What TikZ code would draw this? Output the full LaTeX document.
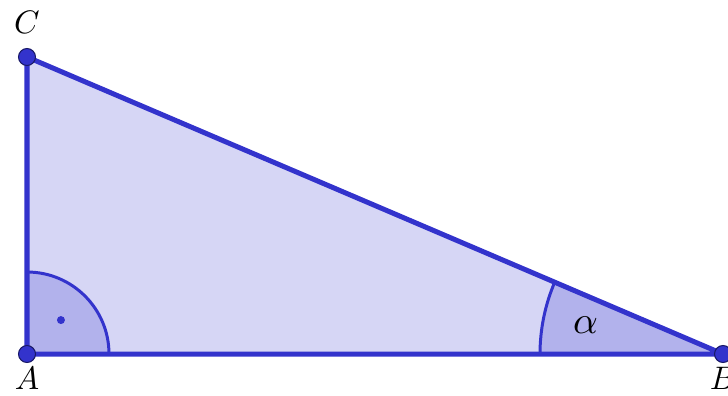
\documentclass[tikz,border=0pt]{standalone}
\usepackage{amsmath}
\usepackage{graphicx}
\usetikzlibrary{positioning,calc}
\definecolor{edgeblue}{RGB}{51,51,204}
\definecolor{fillblue}{RGB}{214,214,245}
\definecolor{anglefill}{RGB}{178,178,236}
\newcommand{\biglabel}[2][1.85]{\scalebox{#1}{\fontsize{10}{12}\selectfont$#2$}}
\tikzset{
    % Triangle styles
    side/.style={draw=edgeblue, line width=2.85pt, line join=round},
    angle arc/.style={draw=edgeblue, line width=1.7pt},
    vertex/.style={circle, fill=edgeblue, draw=edgeblue!50!black, line width=0.6pt,
                   minimum size=3.4mm, inner sep=0pt},
    vertex label/.style={inner sep=0pt},
}

\begin{document}
\begin{tikzpicture}
    \useasboundingbox (0,0) rectangle (14.56,7.90);

    % Points
    \coordinate (A) at (0.54, 0.82);
    \coordinate (B) at (14.46, 0.82);
    \coordinate (C) at (0.54, 6.76);

    % Triangle
    \fill[fillblue] (A) -- (B) -- (C) -- cycle;

    % Angles
    \fill[anglefill] (A) -- ++(1.64,0) arc[start angle=0, end angle=90, radius=1.64] -- cycle;
    \draw[angle arc] ($(A)+(1.64,0)$) arc[start angle=0, end angle=90, radius=1.64];
    \fill[edgeblue] ($(A)+(45:0.96)$) circle (0.08);
    \fill[anglefill] (B) -- ++(-3.66,0) arc[start angle=180, end angle=156.89, radius=3.66] -- cycle;
    \draw[angle arc] ($(B)+(-3.66,0)$) arc[start angle=180, end angle=156.89, radius=3.66];
    \node[vertex label] (alpha) at ($(B)+(168.2:2.81)$) {\biglabel[2.2]{\alpha}};

    % Sides
    \draw[side] (A) -- (B) -- (C) -- cycle;

    % Vertices
    \node[vertex] (pA) at (A) {};
    \node[vertex] (pB) at (B) {};
    \node[vertex] (pC) at (C) {};

    % Labels
    \node[vertex label, above=0.46cm of C] (lblC) {\biglabel{C}};
    \node[vertex label, below=0.26cm of A] (lblA) {\biglabel{A}};
    \node[vertex label, below=0.26cm of B] (lblB) {\biglabel{B}};
\end{tikzpicture}
\end{document}
